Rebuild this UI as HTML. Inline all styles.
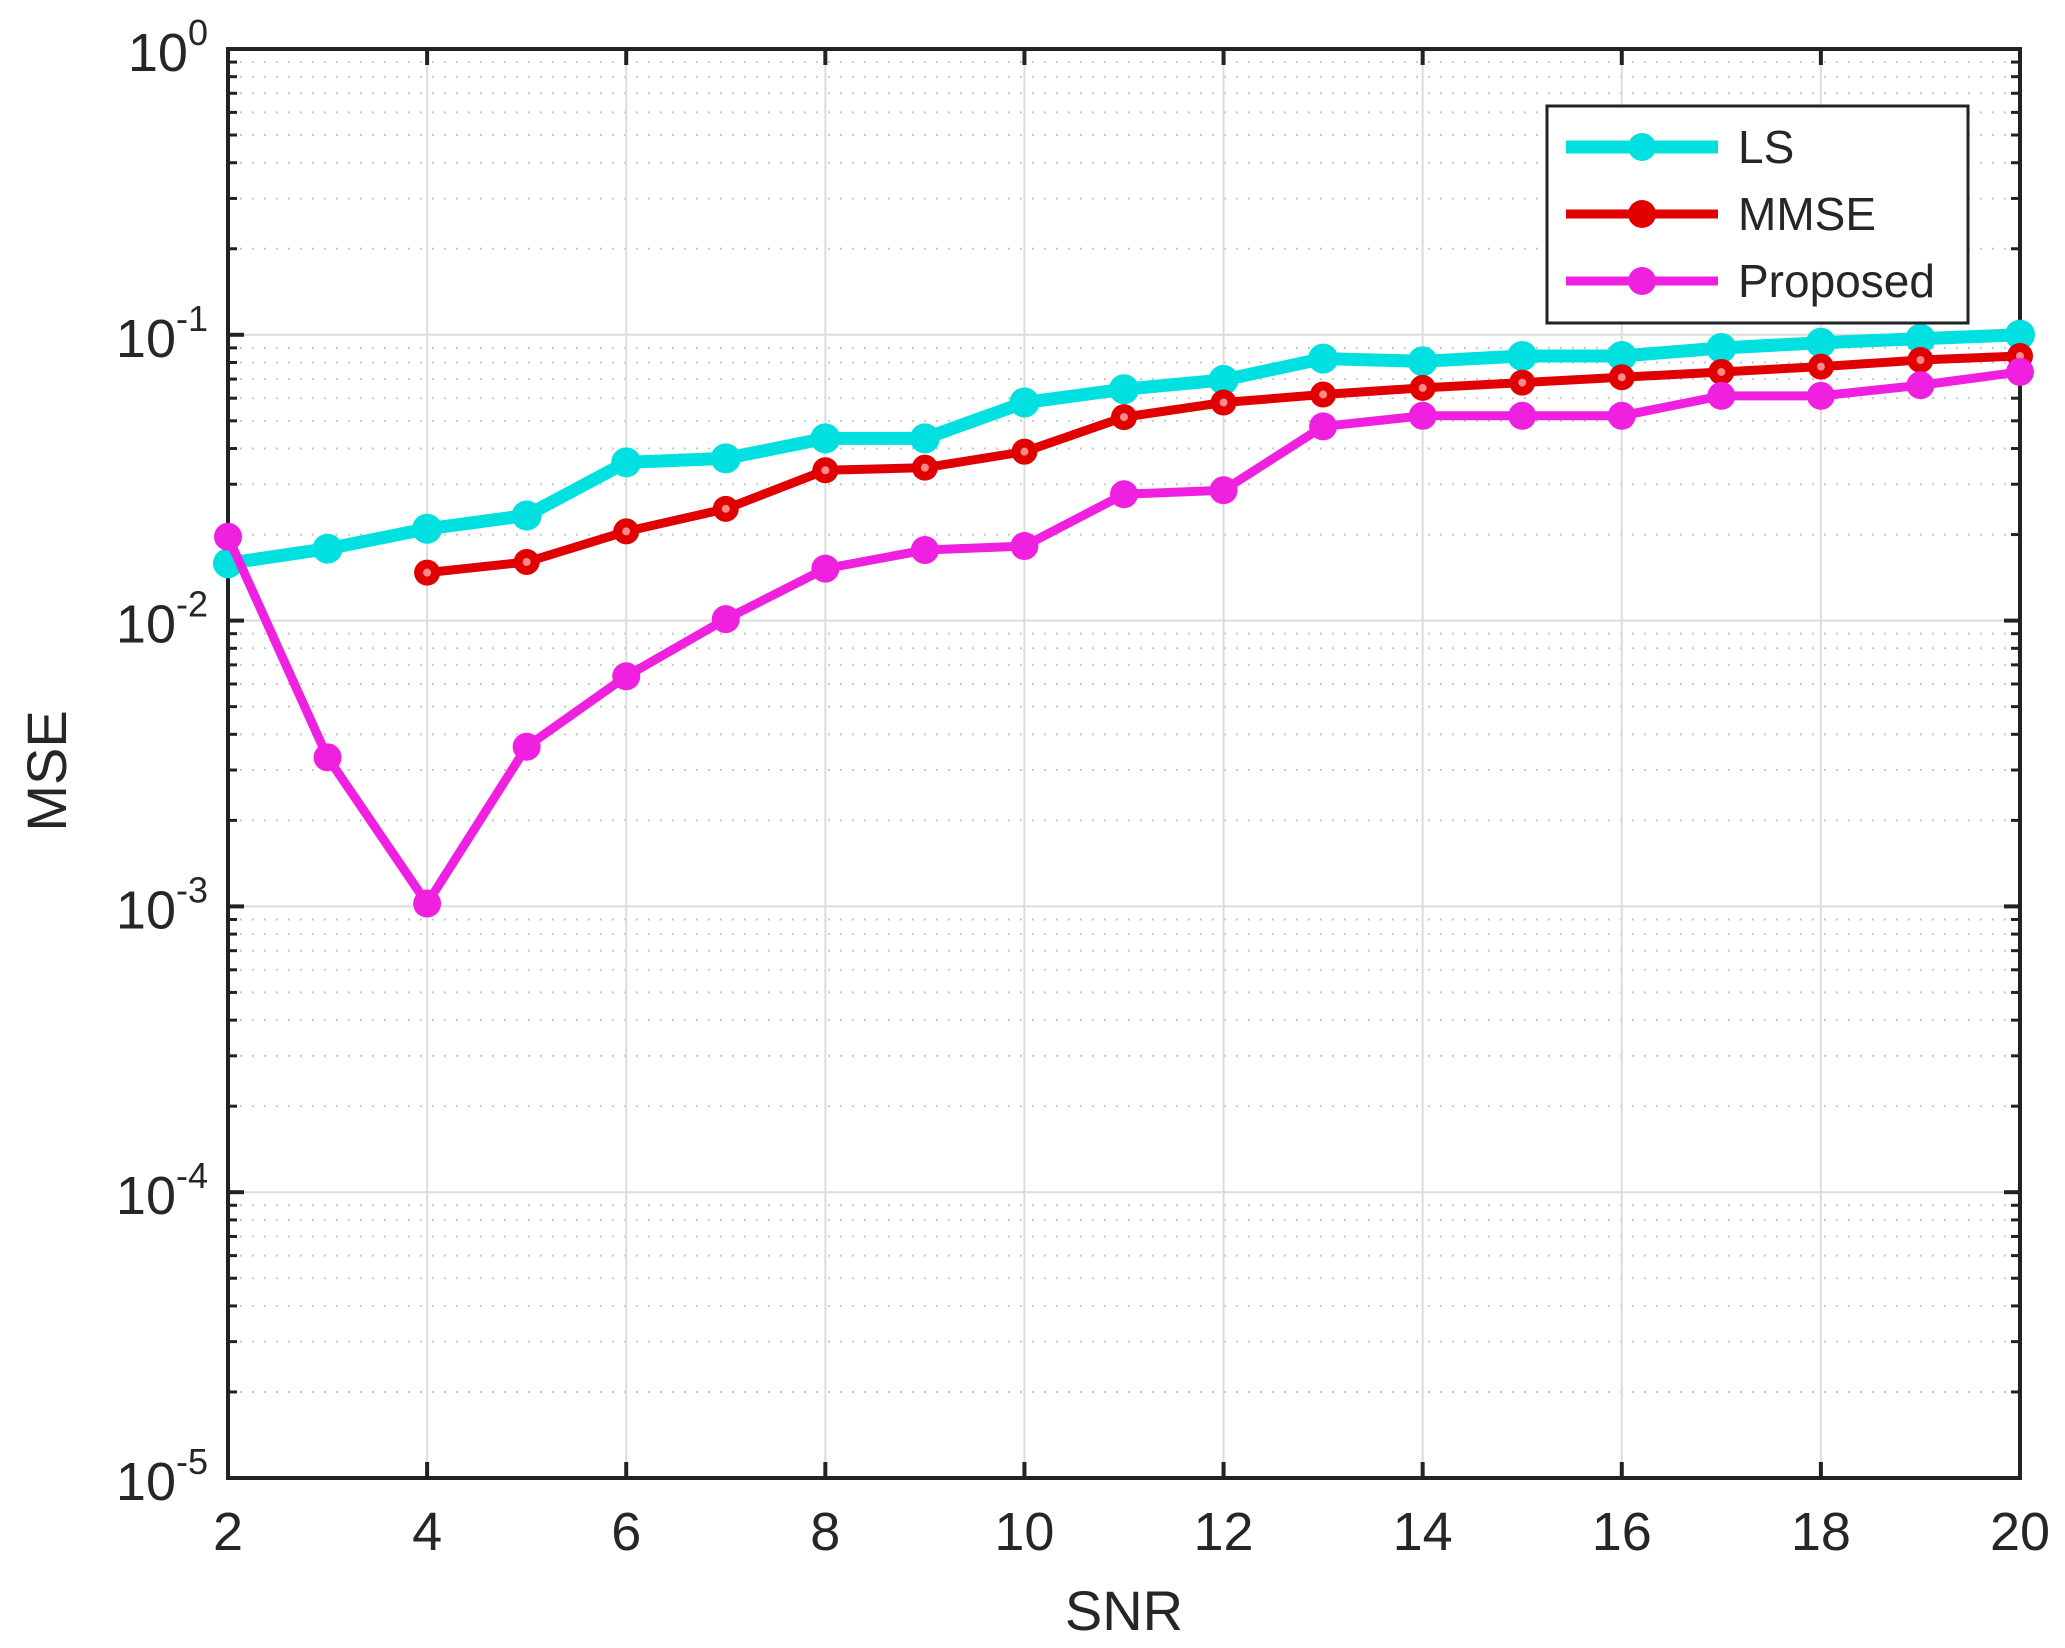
<!DOCTYPE html>
<html><head><meta charset="utf-8"><style>
html,body{margin:0;padding:0;background:#fff;}
svg{display:block;}
text{font-family:"Liberation Sans",Arial,sans-serif;fill:#262626;}
</style></head><body>
<svg id="s" width="2065" height="1648" xmlns="http://www.w3.org/2000/svg"></svg>
<script>
const s=document.getElementById('s');const NS='http://www.w3.org/2000/svg';
function el(t,a,txt){const e=document.createElementNS(NS,t);for(const k in a)e.setAttribute(k,a[k]);if(txt!==undefined)e.textContent=txt;s.appendChild(e);return e;}
const L=228,R=2020,T=49,B=1478,dec=(B-T)/5;
const X=x=>L+(x-2)*(R-L)/18;
const Yl=lg=>T+(0-lg)*dec;
for(let d=0;d<5;d++){for(let m=2;m<=9;m++){const y=Yl(-d-1+Math.log10(m));el('line',{x1:L,x2:R,y1:y,y2:y,stroke:'#c8c8c8','stroke-width':2,'stroke-dasharray':'2 10'});}}
for(let d=1;d<5;d++){const y=Yl(-d);el('line',{x1:L,x2:R,y1:y,y2:y,stroke:'#dcdcdc','stroke-width':2});}
for(let x=4;x<20;x+=2)el('line',{x1:X(x),x2:X(x),y1:T,y2:B,stroke:'#dcdcdc','stroke-width':2});
el('rect',{x:L,y:T,width:R-L,height:B-T,fill:'none',stroke:'#222','stroke-width':4});
for(let x=2;x<=20;x+=2){el('line',{x1:X(x),x2:X(x),y1:B,y2:B-16,stroke:'#222','stroke-width':4});el('line',{x1:X(x),x2:X(x),y1:T,y2:T+16,stroke:'#222','stroke-width':4});
el('text',{x:X(x),y:1550,'font-size':54,'text-anchor':'middle'},x);}
for(let d=0;d<=5;d++){const y=Yl(-d);el('line',{x1:L,x2:L+16,y1:y,y2:y,stroke:'#222','stroke-width':4});el('line',{x1:R,x2:R-16,y1:y,y2:y,stroke:'#222','stroke-width':4});
const t=el('text',{x:L-20,y:y+22,'font-size':54,'text-anchor':'end'});t.innerHTML='10<tspan dy="-26" font-size="36">'+(d?'-'+d:'0')+'</tspan>';
if(d<5)for(let m=2;m<=9;m++){const yy=Yl(-d-1+Math.log10(m));el('line',{x1:L,x2:L+9,y1:yy,y2:yy,stroke:'#222','stroke-width':3});el('line',{x1:R,x2:R-9,y1:yy,y2:yy,stroke:'#222','stroke-width':3});}}
el('text',{x:1124,y:1630,'font-size':56,'text-anchor':'middle'},'SNR');
el('text',{x:0,y:0,'font-size':56,'text-anchor':'middle',transform:'translate(66,771) rotate(-90)'},'MSE');
const Yd=d=>49+(d-37)*1.329;
function series(xs,ys,col,w,r,hollow){const pts=xs.map((x,i)=>X(x)+','+Yd(ys[i]));el('polyline',{points:pts.join(' '),fill:'none',stroke:col,'stroke-width':w,'stroke-linejoin':'round'});
xs.forEach((x,i)=>{el('circle',{cx:X(x),cy:Yd(ys[i]),r:r,fill:col});if(hollow)el('circle',{cx:X(x),cy:Yd(ys[i]),r:4,fill:'#f88'});});}
const r2=[];for(let i=2;i<=20;i++)r2.push(i);const r4=r2.slice(2);
series(r2,[424,413,398,388,348,345,330,330,303,293,286,270,272,268,268,262,258,255,252],'#00e0e0',13,15);
series(r4,[431,423,400,383,354,352,340,314,303,297,292,288,284,280,276,271,268],'#e00000',9,13,true);
series(r2,[404,570,680,562,509,466,428,414,411,372,369,321,313,313,313,298,298,290,280],'#f020e0',9,14);
el('rect',{x:1547,y:106,width:421,height:217,fill:'#fff',stroke:'#222','stroke-width':3});
[['LS','#00e0e0',13,147],['MMSE','#e00000',9,214],['Proposed','#f020e0',9,281]].forEach(([n,c,w,y])=>{
el('line',{x1:1566,x2:1718,y1:y,y2:y,stroke:c,'stroke-width':w});el('circle',{cx:1642,cy:y,r:14,fill:c});
el('text',{x:1738,y:y+16,'font-size':46},n);});
</script>
</body></html>
